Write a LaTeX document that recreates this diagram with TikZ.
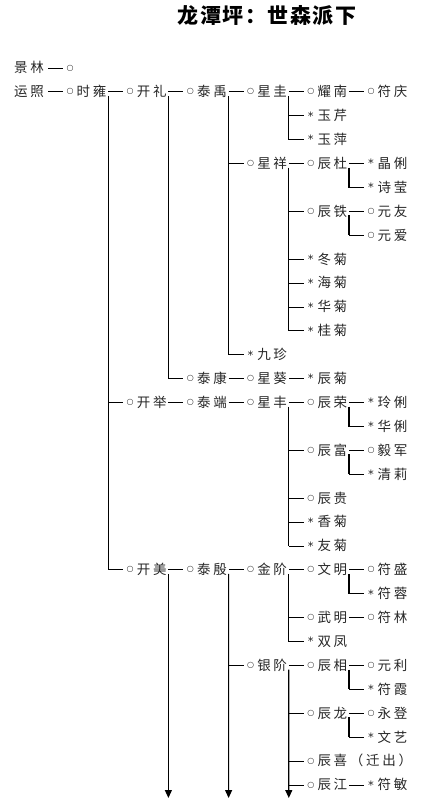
\documentclass[tikz,border=0pt]{standalone}
\usepackage{fontspec}
\usetikzlibrary{arrows.meta}
\newfontfamily\cjk[LetterSpace=20]{Noto Sans CJK SC}
\newfontfamily\cjkt[LetterSpace=7]{Noto Sans CJK SC}
\newfontfamily\symf{DejaVu Sans}
\tikzset{
 nm/.style={anchor=base west, inner sep=0pt, font=\cjk\fontsize{13.5}{14}\selectfont, text=black!85},
 symb/.style={anchor=center, inner sep=0pt, text=black!85},
 hline/.style={line width=0.9pt, black},
 vline/.style={line width=1.2pt, black},
 arr/.style={vline, -{Triangle[width=7pt,length=8pt]}},
}
\newcommand\ent[5]{%
 \coordinate (#1-b) at ({48+60.2*(#2-1)},{68+23.9*(#3)});
 \coordinate (#1-e) at ([xshift=15pt]#1-b);
 \node[symb] (#1-s) at ([xshift=22pt]#1-b) {\ifx#4O{\symf\fontsize{8}{8}\selectfont ○}\else{\symf\fontsize{11.5}{11.5}\selectfont *}\fi};
 \node[nm] (#1) at ([xshift=28.5pt,yshift=-4.8pt]#1-b) {#5};
 \draw[hline] (#1-b) -- (#1-e);
}
\begin{document}
\begin{tikzpicture}[x=1pt,y=-1pt]
\useasboundingbox (0,0) rectangle (443,801);
\node[font=\cjkt\bfseries\fontsize{21}{21}\selectfont, inner sep=0pt] (title) at (267,16) {龙潭坪：世森派下};
\node[nm] (jinglin) at (14,72.8) {景林};
\node[nm] (yunzhao) at (14,96.8) {运照};
% row 0-1
\ent{jl}{1}{0}{O}{}
\ent{sy}{1}{1}{O}{时雍}
\ent{kl}{2}{1}{O}{开礼}
\ent{ty}{3}{1}{O}{泰禹}
\ent{xg}{4}{1}{O}{星圭}
\ent{yn}{5}{1}{O}{耀南}
\ent{fq}{6}{1}{O}{符庆}
\ent{yq}{5}{2}{S}{玉芹}
\ent{yp}{5}{3}{S}{玉萍}
\ent{xx}{4}{4}{O}{星祥}
\ent{cd}{5}{4}{O}{辰杜}
\ent{jli}{6}{4}{S}{晶俐}
\ent{sying}{6}{5}{S}{诗莹}
\ent{ct}{5}{6}{O}{辰铁}
\ent{yy}{6}{6}{O}{元友}
\ent{ya}{6}{7}{O}{元爱}
\ent{dj}{5}{8}{S}{冬菊}
\ent{hj}{5}{9}{S}{海菊}
\ent{huaj}{5}{10}{S}{华菊}
\ent{gj}{5}{11}{S}{桂菊}
\ent{jz}{4}{12}{S}{九珍}
\ent{tk}{3}{13}{O}{泰康}
\ent{xk}{4}{13}{O}{星葵}
\ent{cj}{5}{13}{S}{辰菊}
\ent{kj}{2}{14}{O}{开举}
\ent{td}{3}{14}{O}{泰端}
\ent{xf}{4}{14}{O}{星丰}
\ent{cr}{5}{14}{O}{辰荣}
\ent{ll}{6}{14}{S}{玲俐}
\ent{hl}{6}{15}{S}{华俐}
\ent{cf}{5}{16}{O}{辰富}
\ent{yj}{6}{16}{O}{毅军}
\ent{ql}{6}{17}{S}{清莉}
\ent{cg}{5}{18}{O}{辰贵}
\ent{xj}{5}{19}{S}{香菊}
\ent{youj}{5}{20}{S}{友菊}
\ent{km}{2}{21}{O}{开美}
\ent{tyin}{3}{21}{O}{泰殷}
\ent{jin}{4}{21}{O}{金阶}
\ent{wm}{5}{21}{O}{文明}
\ent{fs}{6}{21}{O}{符盛}
\ent{fr}{6}{22}{S}{符蓉}
\ent{wum}{5}{23}{O}{武明}
\ent{fl}{6}{23}{O}{符林}
\ent{sf}{5}{24}{S}{双凤}
\ent{yinj}{4}{25}{O}{银阶}
\ent{cx}{5}{25}{O}{辰相}
\ent{yl}{6}{25}{O}{元利}
\ent{fx}{6}{26}{S}{符霞}
\ent{cl}{5}{27}{O}{辰龙}
\ent{ydeng}{6}{27}{O}{永登}
\ent{wy}{6}{28}{S}{文艺}
\ent{cxi}{5}{29}{O}{辰喜（迁出）}
\ent{cjiang}{5}{30}{O}{辰江}
\ent{fm}{6}{30}{S}{符敏}
% vertical connectors
\draw[vline] ([yshift=-4pt]kl-b) -- (km-b);
\draw[vline] ([yshift=-4pt]ty-b) -- (tk-b);
\draw[vline] ([yshift=-4pt]xg-b) -- (jz-b);
\draw[vline] ([yshift=-4pt]yn-b) -- (yp-b);
\draw[vline] ([yshift=-4pt]cd-b) -- (gj-b);
\draw[vline] ([yshift=-4pt]cr-b) -- (youj-b);
\draw[vline] ([yshift=-4pt]wm-b) -- (sf-b);
\draw[vline] ([yshift=-4pt]jli-b) -- (sying-b);
\draw[vline] ([yshift=-4pt]yy-b) -- (ya-b);
\draw[vline] ([yshift=-4pt]ll-b) -- (hl-b);
\draw[vline] ([yshift=-4pt]yj-b) -- (ql-b);
\draw[vline] ([yshift=-4pt]fs-b) -- (fr-b);
\draw[vline] ([yshift=-4pt]yl-b) -- (fx-b);
\draw[vline] ([yshift=-4pt]ydeng-b) -- (wy-b);
% continuing lines with arrows
\coordinate (a3) at (168.4,798);
\coordinate (a4) at (228.6,798);
\coordinate (a5) at (288.8,798);
\draw[arr] ([yshift=-4pt]tyin-b) -- (a3);
\draw[arr] ([yshift=-4pt]jin-b) -- (a4);
\draw[arr] ([yshift=-4pt]cx-b) -- (a5);
\end{tikzpicture}
\end{document}
